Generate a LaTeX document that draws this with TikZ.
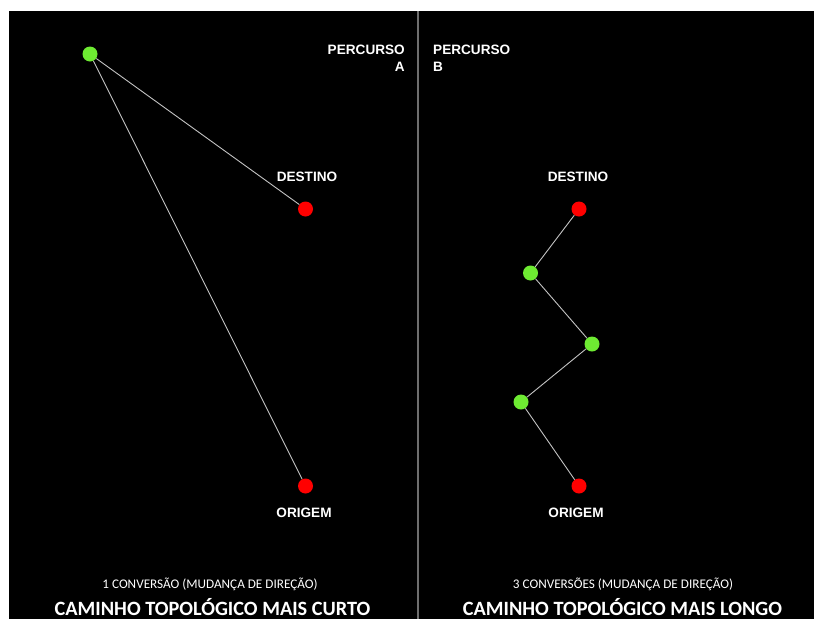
\documentclass[tikz,border=0pt]{standalone}
\usepackage{fontspec}
\setmainfont{Carlito}
\newfontfamily\arialfont{Liberation Sans}
\definecolor{dotgreen}{RGB}{110,235,50}
\definecolor{dotred}{RGB}{255,0,0}
\definecolor{connc}{RGB}{195,195,195}
\definecolor{divc}{RGB}{110,110,110}
\begin{document}
\begin{tikzpicture}[x=1pt,y=-1pt,
  dot/.style={circle,inner sep=0pt,minimum size=15pt},
  gdot/.style={dot,fill=dotgreen},
  rdot/.style={dot,fill=dotred},
  conn/.style={draw=connc,line width=0.9pt},
  lbl/.style={text=white,inner sep=0pt,font=\arialfont\bfseries\fontsize{13.6}{17.5}\selectfont},
  small/.style={text=white,inner sep=0pt,font=\fontsize{13.2}{15}\selectfont},
  big/.style={text=white,inner sep=0pt,font=\bfseries\fontsize{20.3}{24}\selectfont}]
\useasboundingbox (0,0) rectangle (814,619);
\fill[white] (0,0) rectangle (814,619);
\fill[black] (9,11) rectangle (814,619);
\coordinate (dtop) at (417.5,11);
\coordinate (dbot) at (417.5,619);
\draw[divc,line width=2pt] (dtop) -- (dbot);
% left
\node[gdot] (la) at (90,54) {};
\node[rdot] (ld) at (305.5,209) {};
\node[rdot] (lo) at (305.5,486) {};
\draw[conn] (la) -- (ld);
\draw[conn] (la) -- (lo);
% right
\node[rdot] (rd) at (579,209) {};
\node[gdot] (r1) at (530.5,273) {};
\node[gdot] (r2) at (592,344) {};
\node[gdot] (r3) at (521,402) {};
\node[rdot] (ro) at (579,486) {};
\draw[conn] (rd) -- (r1) -- (r2) -- (r3) -- (ro);
% labels
\node[lbl,anchor=base east,align=right] (pa) at (405,71.5) {PERCURSO\\A};
\node[lbl,anchor=base west,align=left] (pb) at (433,71.5) {PERCURSO\\B};
\node[lbl,anchor=base] (tld) at (307,181) {DESTINO};
\node[lbl,anchor=base] (tlo) at (304,517) {ORIGEM};
\node[lbl,anchor=base] (trd) at (578,181) {DESTINO};
\node[lbl,anchor=base] (tro) at (576,517) {ORIGEM};
\node[small,anchor=base] (sl) at (210,588) {1 CONVERSÃO (MUDANÇA DE DIREÇÃO)};
\node[big,anchor=base] (bl) at (212.5,615) {CAMINHO TOPOLÓGICO MAIS CURTO};
\node[small,anchor=base] (sr) at (623,588) {3 CONVERSÕES (MUDANÇA DE DIREÇÃO)};
\node[big,anchor=base] (br) at (622.5,615) {CAMINHO TOPOLÓGICO MAIS LONGO};
\end{tikzpicture}
\end{document}
